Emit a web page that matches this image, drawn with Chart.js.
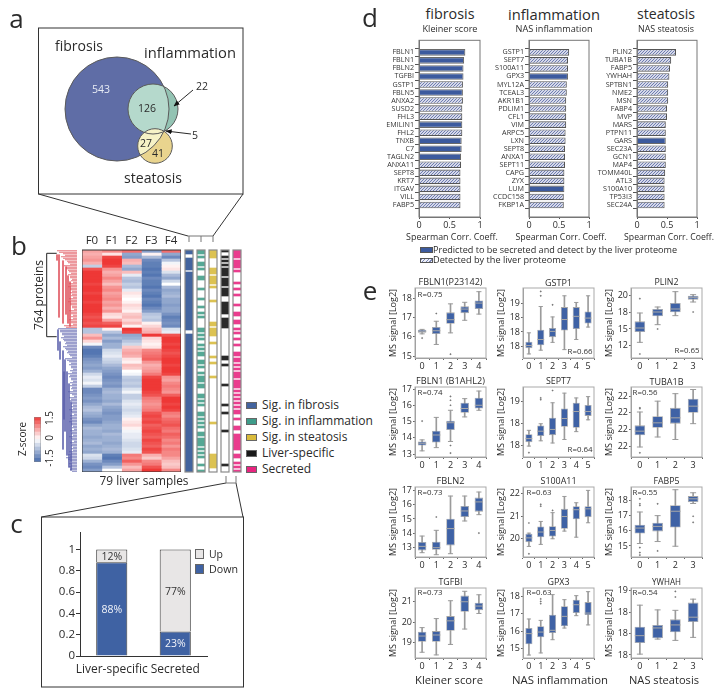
<!DOCTYPE html>
<html><head><meta charset="utf-8">
<script src="https://cdn.jsdelivr.net/npm/chart.js@4"></script>
<style>
html,body{margin:0;padding:0;background:#fff}
#page{position:relative;width:721px;height:694px;overflow:hidden;background:#fff;font-family:"Open Sans",sans-serif;color:#2b2b2b}
#page canvas{position:absolute}
.t{position:absolute;white-space:nowrap;line-height:1;transform:translate(-50%,-50%)}
.l{transform:translate(0,-50%)}
.sw{position:absolute;box-sizing:border-box}
svg{position:absolute;left:0;top:0}
</style></head><body><div id="page"></div>
<script>
/* ---------- panel a: Venn ---------- */
const vennNames=['fibrosis','inflammation','steatosis'];
const vennX=[79,115,117];
const vennY=[81,81,118];
const vennR=[52,25,17.3];
const vennCounts=['543','126','27','41','22','5'];

/* ---------- panel b: heatmap (z-score per row) ---------- */
const heatCols=['F0','F1','F2','F3','F4'];
const heatF0=[.7,.6,.7,.8,.6,-.5,1.3,1.5,1.5,1.5,1.5,1.4,1.5,1.5,1.4,1.5,1.5,1.4,1.5,1.5,1.5,1.4,1.3,1.4,1.3,1.4,-.6,-.6,.5,.8,.3,-.1,-1.2,-1.4,-1.4,-1.3,-1.1,-1.0,-.9,-1.0,-.8,-.4,-.2,-.3,-.1,-.5,-1.2,-1.2,-1.1,-1.0,-1.1,-.9,-.7,-.6,-.8,-.9,-1.1,-1.2,-.9,-.7,-.8,-.8,-.9,-.8,-.7,-.9,-.8,-.9,-.3,-.4,-.8,-1.1,-1.2,-1.0];
const heatF1=[.9,.2,1.4,1.5,1.5,1.4,.8,.6,.7,.9,.7,.5,.8,.9,.7,.8,.9,.7,.8,.6,.8,.3,.2,.7,1.2,1.4,.1,-.6,-.9,-.7,-1.0,-.8,-.8,-.4,-.3,-.2,-.4,-.5,-.7,-.9,-1.0,-1.1,-1.2,-1.1,-1.0,-1.1,-.8,-.7,-.8,-.8,-.9,-.7,-.9,-1.0,-1.1,-1.0,-1.0,-.9,-.8,-.8,-.9,-.7,-.8,-.8,-.9,-.8,-.7,-.8,-1.3,-1.4,-1.2,-1.0,-.6,.0];
const heatF2=[1.1,-.9,-1.0,.6,.5,-.7,-.9,.5,-.2,-.6,-.7,-.5,-.6,-.2,.2,.1,.0,.1,.3,.2,.1,.4,.5,.3,.5,.1,1.5,1.4,-.9,-.8,-.6,-.4,.4,.6,.7,.6,.2,.1,.5,.4,.0,-.1,-.5,-.6,-.5,-.6,-.3,-.1,-.5,-.5,-.3,-.2,-.3,-.4,-.3,-.2,.1,.2,.3,.1,-.1,-.2,-.2,-.3,-.4,-.4,-.3,-.2,1.0,.9,1.2,.8,.5,.7];
const heatF3=[-1.0,.1,-.7,-1.2,-1.3,-1.3,-1.4,-1.3,-1.4,-1.2,-1.3,-1.3,-1.4,-1.2,-1.3,-1.4,-1.2,-1.3,-1.4,-1.2,-1.0,-.6,-.5,-.6,.1,.3,.5,.6,1.5,.3,.2,.1,.2,.9,1.0,1.1,1.2,.8,.6,.7,.8,1.0,1.4,1.5,1.5,1.5,1.5,1.4,1.3,1.0,.9,.8,.9,1.0,1.3,1.4,1.3,1.4,1.2,1.3,1.4,1.3,1.2,1.4,1.3,1.2,1.4,1.3,.6,.4,.9,1.0,1.3,1.5];
const heatF4=[1.1,-.9,-1.2,-.6,-.1,.1,.2,-.3,-.7,-.9,-.4,.0,-.7,-.9,-.8,-.7,-.9,-.9,-1.0,-.9,-.9,-1.1,-1.3,-1.2,-1.1,-1.2,-.3,-.2,1.3,1.5,1.5,1.4,1.5,1.4,1.3,1.4,1.5,1.5,1.4,1.5,1.5,1.4,.8,.7,.9,1.0,.9,.8,1.2,1.5,1.5,1.4,1.5,1.4,1.0,.9,1.1,1.2,1.3,1.1,1.0,1.2,1.1,.9,1.0,.8,1.0,.9,.9,.7,.5,.4,.5,.9];
const colorbarSteps=[-1.5,-1.25,-1,-.75,-.5,-.25,0,.25,.5,.75,1,1.25];

/* dendrogram: depth of each leaf and [depth,rowFrom,rowTo] spines */
const dendroRedLeaves=[1,7,5,9,12,8,10,13,12,14,15,13,12,14,14,15,13,12,14,16,13,15,15,13,15,8];
const dendroRedSpines=[[1,1,3],[3,1,22],[7,3,24],[10,5,21],[12,8,24],[14,10,25]];
const dendroBlueLeaves=[2,4,6,5,8,9,7,10,11,14,9,13,13,15,14,12,13,15,14,14,15,12,16,13,14,15,15,13,16,14,14,13,15,16,14,15,13,16,14,15,15,13,12,10,14,13,13,14];
const dendroBlueSpines=[[2,26,33],[4,30,36],[7,33,66],[8,40,56],[9,36,60],[11,40,68],[13,44,72],[15,50,73]];

/* annotation tracks: flagged row numbers out of 111 */
const trackRows=111;
const trackFibrosis=[0,1,4,5,6,7,8,9,11,12,13,14,15,16,17,18,19,20,21,22,23,24,25,26,27,28,29,30,31,32,33,34,35,36,37,38,39,42,43,44,45,46,47,48,49,50,51,52,53,54,55,56,57,58,59,60,61,62,63,64,65,66,67,68,69,70,71,72,73,74,75,76,77,78,79,80,81,82,83,84,85,86,87,88,89,90,91,92,93,94,95,96,97,98,99,100,101,102,103,104,105,106,107,108,109,110];
const trackInflammation=[0,1,3,6,7,9,13,14,19,24,28,31,33,39,40,42,44,47,49,51,52,55,56,58,61,63,64,65,67,68,72,73,75,77,81,82,84,86,88,91,92,94,95,96,97,99,101,103,107,110];
const trackSteatosis=[0,1,2,3,9,10,11,13,14,15,16,18,25,36,37,39,40,41,42,46,53,56,63,86,102,103,104,105,106,107,108];
const trackLiver=[0,3,5,7,9,10,11,12,14,15,16,17,19,20,21,22,26,27,28,29,30,31,34,35,36,37,38,53,54,57,67,77,81,90,107];
const trackSecreted=[0,1,2,3,5,6,7,8,10,16,19,22,27,31,32,35,36,39,41,44,47,51,52,54,55,57,59,61,62,63,65,66,67,68,70,72,74,76,78,80,81,84,88,89,92,93,94,95,96,97,98,99,102,103,106,108,110];
const legendB=['Sig. in fibrosis','Sig. in inflammation','Sig. in steatosis','Liver-specific','Secreted'];

/* ---------- panel c ---------- */
const stackCats=['Liver-specific','Secreted'];
const shareDown=[.88,.23];
const shareUp=[.12,.77];
const shareDownText=['88%','23%'];
const shareUpText=['12%','77%'];

/* ---------- panel d ---------- */
const fibrosisGenes=['FBLN1','FBLN1','FBLN2','TGFBI','GSTP1','FBLN5','ANXA2','SUSD2','FHL3','EMILIN1','FHL2','TNXB','C7','TAGLN2','ANXA11','SEPT8','KRT7','ITGAV','VILL','FABP5'];
const fibrosisCorr=[.76,.74,.73,.73,.72,.72,.72,.71,.71,.71,.71,.70,.70,.69,.69,.68,.68,.68,.68,.68];
const fibrosisSecreted=[1,1,1,1,0,1,0,0,0,1,0,1,1,1,0,0,0,0,0,0];
const inflammationGenes=['GSTP1','SEPT7','S100A11','GPX3','MYL12A','TCEAL3','AKR1B1','PDLIM1','CFL1','VIM','ARPC5','LXN','SEPT8','ANXA1','SEPT11','CAPG','ZYX','LUM','CCDC158','FKBP1A'];
const inflammationCorr=[.67,.65,.65,.65,.63,.63,.62,.62,.62,.62,.61,.61,.60,.60,.60,.59,.59,.59,.58,.58];
const inflammationSecreted=[0,0,0,1,0,0,0,0,0,0,0,0,0,0,0,0,0,1,0,0];
const steatosisGenes=['PLIN2','TUBA1B','FABP5','YWHAH','SPTBN1','NME2','MSN','FABP4','MVP','MARS','PTPN11','GARS','SEC23A','GCN1','MAP4','TOMM40L','ATL3','S100A10','TP53I3','SEC24A'];
const steatosisCorr=[.65,.57,.55,.54,.52,.52,.52,.50,.50,.48,.48,.48,.48,.48,.48,.47,.46,.46,.46,.46];
const steatosisSecreted=[0,0,0,0,0,0,0,0,0,0,0,1,0,0,0,0,0,0,0,0];

/* ---------- panel e: [low,q1,median,q3,high] per group, outliers [group,value] ---------- */
const boxFBLN1a=[[16.15,16.2,16.28,16.36,16.38],[15.6,16.14,16.31,16.5,16.8],[16.2,16.67,16.88,17.26,17.7],[16.85,17.22,17.43,17.57,17.78],[17.17,17.43,17.74,17.88,18.33]];
const outFBLN1a=[['0',15.93],['1',17.2],['2',15.1]];
const boxGSTP1=[[17.24,17.44,17.53,17.66,17.97],[17.37,17.54,17.74,18.08,18.88],[17.64,17.82,18.02,18.14,18.52],[17.39,18.05,18.43,18.86,19.25],[17.74,18.1,18.54,18.86,19.02],[18.17,18.29,18.48,18.71,19.25]];
const outGSTP1=[['1',19.4],['1',19.25],['2',18.94]];
const boxPLIN2=[[13,14.55,15.15,16.15,17.4],[15.65,16.9,17.55,18,18.3],[17,17.5,18,18.9,20.6],[19.05,19.4,19.75,20,20.15]];
const outPLIN2=[['0',19.55],['0',11.25],['1',15],['3',17.55]];
const boxFBLN1b=[[13.2,13.53,13.67,13.78,13.88],[13.4,13.71,14.18,14.45,15.27],[13.78,14.49,14.94,15.06,15.71],[15.3,15.55,15.82,16.18,16.43],[15.71,15.82,16.02,16.49,16.9]];
const outFBLN1b=[['0',15.04],['2',16.57],['2',16.33],['2',16.02],['2',13.53],['2',13.06]];
const boxSEPT7=[[17.98,18.07,18.15,18.25,18.34],[18.1,18.21,18.32,18.45,18.49],[18.05,18.23,18.36,18.63,18.97],[18.13,18.42,18.61,18.84,19.19],[18.31,18.4,18.77,18.97,19.08],[18.58,18.67,18.77,18.92,19.11]];
const outSEPT7=[['0',17.83],['1',19.08],['1',19.04],['2',19.25]];
const boxTUBA1B=[[21.59,21.73,21.78,21.85,22.01],[21.71,21.82,21.88,21.96,22.14],[21.68,21.87,21.94,22.06,22.23],[21.87,22,22.08,22.17,22.28]];
const outTUBA1B=[['0',22.05],['0',22.06],['0',21.52]];
const boxFBLN2=[[12.65,12.81,13.09,13.4,13.81],[12.51,12.86,13,13.42,14.21],[12.58,13.16,14.33,15.02,16.6],[14.86,15.14,15.56,15.91,16.6],[15.3,15.51,16.19,16.49,16.88]];
const outFBLN2=[['1',15.14],['4',14.02]];
const boxS100A11=[[19.66,19.85,20.04,20.22,20.25],[19.75,20.07,20.3,20.55,20.77],[20,20.1,20.37,20.56,21.16],[20.34,20.44,20.99,21.33,21.88],[20.07,20.87,21.29,21.45,21.6],[20.71,20.96,21.33,21.45,22.15]];
const outS100A11=[['0',20.7],['0',19.33],['1',21.53],['1',21.45],['2',21.26]];
const boxFABP5=[[15.16,15.82,16.18,16.4,17.24],[15.29,15.96,16.29,16.53,17],[14.98,16.22,17.29,17.69,18.71],[17.8,17.89,18.11,18.29,18.51]];
const outFABP5=[['0',18.11],['0',17.78],['0',17.67],['0',14.89],['0',14.56],['0',14.4],['1',17.78],['1',14.67],['3',16.96],['3',16.56]];
const boxTGFBI=[[18.54,19.05,19.33,19.54,19.74],[18.41,19.05,19.38,19.57,20.18],[18.92,19.59,20.07,20.3,21.05],[19.67,20.51,21,21.3,21.51],[20.43,20.59,20.79,20.95,21.34]];
const outTGFBI=[];
const boxGPX3=[[14.63,15.25,15.86,16.18,16.7],[14.75,15.65,15.95,16.28,16.62],[15.51,15.9,16.05,16.95,18.1],[16.18,16.28,16.85,17.43,17.81],[16.89,17.04,17.52,17.81,18.04],[16.36,16.93,17.04,17.67,18.27]];
const outGPX3=[['1',17.85],['1',17.71],['1',17.58]];
const boxYWHAH=[[17.52,17.78,17.95,18.16,18.66],[17.87,17.89,18.13,18.2,18.55],[17.84,18.03,18.2,18.33,18.54],[17.91,18.27,18.38,18.72,18.8]];
const outYWHAH=[['2',18.98],['2',18.85]];

const ticksFBLN1a=[15,16,17,18], labelsFBLN1a=['15','16','17','18'];
const ticksGSTP1=[17.5,18,18.5,19], labelsGSTP1=['18','18','18','19'];
const ticksPLIN2=[12.5,15,17.5,20], labelsPLIN2=['12','15','18','20'];
const ticksFBLN1b=[13,14,15,16,17], labelsFBLN1b=['13','14','15','16','17'];
const ticksSEPT7=[18,18.5,19], labelsSEPT7=['18','18','19'];
const ticksTUBA1B=[21.6,21.8,22,22.2], labelsTUBA1B=['22','22','22','22'];
const ticksFBLN2=[13,14,15,16,17], labelsFBLN2=['13','14','15','16','17'];
const ticksS100A11=[20,21,22], labelsS100A11=['20','21','22'];
const ticksFABP5=[15,16,17,18], labelsFABP5=['15','16','17','18'];
const ticksTGFBI=[19,20,21], labelsTGFBI=['19','20','21'];
const ticksGPX3=[15,16,17,18], labelsGPX3=['15','16','17','18'];
const ticksYWHAH=[17.5,18,18.5,19], labelsYWHAH=['18','18','18','19'];

/* ---------- helpers ---------- */
const FONT='"Open Sans",sans-serif';
const page=document.getElementById('page');
const INK='#2b2b2b';
Chart.defaults.font.family=FONT;
Chart.defaults.color=INK;
Chart.defaults.animation=false;
Chart.defaults.plugins.legend.display=false;
Chart.defaults.plugins.tooltip.enabled=false;

const _m=document.createElement('canvas').getContext('2d');
function fitSize(s,w){_m.font='100px '+FONT;return +(w/_m.measureText(s).width*100).toFixed(2);}

Chart.register({id:'frame',afterDatasetsDraw(c,_,o){
  if(!o||!o.color)return;const a=c.chartArea,x=c.ctx;x.save();x.strokeStyle=o.color;x.lineWidth=o.width||1;
  x.strokeRect(a.left,a.top,a.right-a.left,a.bottom-a.top);x.restore();}});
Chart.register({id:'barText',afterDatasetsDraw(c,_,o){
  if(!o||!o.items)return;const x=c.ctx;x.save();x.font='10.5px '+FONT;x.textAlign='center';x.textBaseline='middle';
  o.items.forEach(it=>{c.getDatasetMeta(it.dataset).data.forEach((el,i)=>{
    const p=el.getProps(['x','y','base'],true);x.fillStyle=it.color;x.fillText(it.text[i],p.x,(p.y+p.base)/2+1);});});
  x.restore();}});
Chart.register({id:'vennOverlap',afterDatasetsDraw(c,_,o){
  if(!o||!o.on)return;const x=c.ctx;const pt=i=>{const m=c.getDatasetMeta(0).data[i];return {x:m.x,y:m.y,r:m.options.radius};};
  const P=[pt(0),pt(1),pt(2)];const circ=p=>{x.beginPath();x.arc(p.x,p.y,p.r,0,Math.PI*2);};
  x.save();circ(P[0]);x.clip();
  circ(P[1]);x.fillStyle='#b5d9cc';x.fill();
  circ(P[2]);x.fillStyle='#f6f2c6';x.fill();x.restore();
  x.strokeStyle='#5a5a5a';x.lineWidth=1;P.forEach(p=>{circ(p);x.stroke();});}});

function mk(plot,m,config){
  const cv=document.createElement('canvas');
  const W=plot.r-plot.l+m.l+m.r,H=plot.b-plot.t+m.t+m.b;
  cv.width=W;cv.height=H;cv.style.left=(plot.l-m.l)+'px';cv.style.top=(plot.t-m.t)+'px';
  cv.style.width=W+'px';cv.style.height=H+'px';page.appendChild(cv);
  const o=config.options=config.options||{};
  o.responsive=false;o.events=[];
  o.scales=o.scales||{};
  const xs=o.scales.x=o.scales.x||{},ys=o.scales.y=o.scales.y||{};
  const pad={left:ys.display===false?m.l:0,right:m.r,top:m.t,bottom:xs.display===false?m.b:0};
  if(xs.display!==false)xs.afterFit=s=>{s.height=m.b;};
  if(ys.display!==false)ys.afterFit=s=>{s.width=m.l;};
  if(xs.position==='top'){xs.afterFit=s=>{s.height=m.t;};pad.top=0;pad.bottom=m.b;}
  o.layout={padding:pad};
  return new Chart(cv,config);
}
/* size is either a font size, or {w:n} for the width in pixels the text spans */
function txt(s,x,y,size,opt={}){
  const d=document.createElement('div');d.className='t'+(opt.left?' l':'');d.textContent=s;
  const fs=(typeof size==='object')?fitSize(s,size.w):size;
  d.style.left=x+'px';d.style.top=y+'px';d.style.fontSize=fs+'px';
  if(opt.color)d.style.color=opt.color;
  if(opt.rot)d.style.transform='translate(-50%,-50%) rotate(-90deg)';
  page.appendChild(d);
}
function swatch(x,y,w,h,fill,border){
  const d=document.createElement('div');d.className='sw';d.style.cssText+=`left:${x}px;top:${y}px;width:${w}px;height:${h}px;border:1px solid ${border};`;
  d.style.background=fill;page.appendChild(d);return d;
}
function hatch(){
  const c=document.createElement('canvas');c.width=c.height=3;const x=c.getContext('2d');
  x.fillStyle='#d5d9ea';x.fillRect(0,0,3,3);x.strokeStyle='#6e7cb0';x.lineWidth=1;
  x.beginPath();x.moveTo(-1,4);x.lineTo(4,-1);x.moveTo(-1,1);x.lineTo(1,-1);x.moveTo(2,4);x.lineTo(4,2);x.stroke();
  return x.createPattern(c,'repeat');
}
const HATCH=hatch();
function heatColor(z){
  const t=Math.max(-1,Math.min(1,z/1.5));const a=Math.abs(t);
  const e=t<0?[72,108,172]:[238,56,54];
  return `rgb(${Math.round(255+(e[0]-255)*a)},${Math.round(255+(e[1]-255)*a)},${Math.round(255+(e[2]-255)*a)})`;
}

/* ---------- connectors ---------- */
const NS='http://www.w3.org/2000/svg';
const svg=document.createElementNS(NS,'svg');svg.setAttribute('width',721);svg.setAttribute('height',694);
svg.innerHTML=`
<defs><marker id="ah" viewBox="0 0 10 10" refX="9" refY="5" markerWidth="7" markerHeight="7" orient="auto"><path d="M0 1L10 5L0 9z" fill="#111"/></marker></defs>
<g fill="none" stroke="#333" stroke-width="1">
<rect x="38.5" y="28" width="204.5" height="166"/>
<rect x="41.5" y="517" width="202" height="170"/>
<path d="M38.5 194L188 236M243 194L213 236"/>
<path d="M41.5 517L226 483M243 517L236 483"/>
<path d="M46.7 253.3H56.7M46.7 336.7H56.7M46.7 253.3V336.7" stroke="#222"/>
</g>
<g fill="none" stroke="#777" stroke-width="1">
<path d="M188 236H213M189 236V242M201 236V242M213 236V242"/>
<path d="M226 476V483H236V476"/>
</g>
<path d="M193 90L174 106" stroke="#111" stroke-width=".9" marker-end="url(#ah)"/>
<path d="M191 134L166 131" stroke="#111" stroke-width=".9" marker-end="url(#ah)"/>`;

/* ---------- a: Venn as a bubble chart ---------- */
mk({l:38,t:28,r:243,b:194},{l:60,t:60,r:60,b:60},{type:'bubble',
 data:{datasets:[{data:vennX.map((x,i)=>({x,y:vennY[i],r:vennR[i]})),
   backgroundColor:['#5f6da6','#93c3b3','#e9d48e'],borderWidth:0,clip:false}]},
 options:{plugins:{vennOverlap:{on:true}},
  scales:{x:{display:false,min:0,max:205},y:{display:false,reverse:true,min:0,max:166}}}});
txt(vennNames[0],79,46,{w:48});txt(vennNames[1],190,52,{w:92});txt(vennNames[2],153,178,{w:58});
txt(vennCounts[0],101,89,10.5,{color:'#e8ecf5'});txt(vennCounts[1],147,108,10.5);txt(vennCounts[2],146,143,10.5);
txt(vennCounts[3],158,153,10.5);txt(vennCounts[4],202,86,10.5);txt(vennCounts[5],195,135,10.5);

/* ---------- b: heat map as stacked horizontal bars ---------- */
const heatData=[heatF0,heatF1,heatF2,heatF3,heatF4];
const heatRows=heatF0.map((_,i)=>String(i));
mk({l:82,t:250,r:181,b:472},{l:0,t:16,r:0,b:0},{type:'bar',
 data:{labels:heatRows,datasets:heatData.map((col,i)=>({label:heatCols[i],data:col.map(()=>1),
   backgroundColor:col.map(heatColor),borderWidth:0,barPercentage:1,categoryPercentage:1}))},
 options:{indexAxis:'y',plugins:{frame:{color:'#333',width:1}},
  scales:{y:{display:false,stacked:true},
   x:{position:'top',stacked:true,min:0,max:5,afterBuildTicks:a=>{a.ticks=heatCols.map((_,i)=>({value:i+.5}));},
      grid:{display:false,drawTicks:false},border:{display:false},
      ticks:{autoSkip:false,maxRotation:0,padding:2,callback:(v,i)=>heatCols[i],font:{size:11.5},color:INK}}}}});

/* dendrogram */
function dendro(leaves,first,spines,right){
  const pts=[];leaves.forEach((d,i)=>{
    pts.push({x:d,y:first+i+.25},{x:right,y:first+i+.25},{x:NaN,y:NaN});
    pts.push({x:d+2,y:first+i+.75},{x:right,y:first+i+.75},{x:NaN,y:NaN});});
  spines.forEach(s=>{pts.push({x:s[0],y:s[1]+.5},{x:s[0],y:s[2]+.5},{x:NaN,y:NaN});});
  return pts;
}
mk({l:56,t:250,r:81,b:472},{l:2,t:2,r:2,b:2},{type:'scatter',
 data:{datasets:[
  {data:dendro(dendroRedLeaves,0,dendroRedSpines,21),showLine:true,pointRadius:0,borderColor:'#e0525a',borderWidth:.8,spanGaps:false},
  {data:dendro(dendroBlueLeaves,26,dendroBlueSpines,21),showLine:true,pointRadius:0,borderColor:'#5a60ac',borderWidth:.8,spanGaps:false}]},
 options:{scales:{x:{display:false,min:0,max:25},y:{display:false,reverse:true,min:0,max:74}}}});
txt('764 proteins',39,295,{w:70},{rot:true});

/* tracks */
const trackList=[[trackFibrosis,'#43649f',185],[trackInflammation,'#55a895',197],[trackSteatosis,'#dcc252',209],[trackLiver,'#2a2a2a',221],[trackSecreted,'#ea3d8e',233]];
const trackLabels=Array.from({length:trackRows},(_,i)=>String(i));
trackList.forEach(([rows,col,x])=>{
 mk({l:x,t:250,r:x+8,b:472},{l:1,t:1,r:1,b:1},{type:'bar',
  data:{labels:trackLabels,datasets:[{data:trackLabels.map((_,i)=>rows.includes(i)?1:null),backgroundColor:col,borderWidth:0,barPercentage:1,categoryPercentage:1}]},
  options:{indexAxis:'y',plugins:{frame:{color:'#8a8a8a',width:1.2}},scales:{x:{display:false,min:0,max:1},y:{display:false}}}});
});

/* legend of b */
const legendBColors=['#43649f','#3e9c8a','#d9bb3c','#1a1a1a','#e8247f'];
const legendBSize=fitSize('Sig. in inflammation',111);
[405,421,437,453,469].forEach((y,i)=>{swatch(246,y-3.5,11,7,legendBColors[i],'#666');txt(legendB[i],262,y,legendBSize,{left:true});});
txt('79 liver samples',144,481,{w:89});

/* colorbar */
mk({l:34,t:417,r:41,b:462},{l:0,t:0,r:0,b:0},{type:'bar',
 data:{labels:['z'],datasets:colorbarSteps.map(s=>({data:[[s,s+.25]],backgroundColor:heatColor(s+.125),borderWidth:0,barPercentage:1,categoryPercentage:1,grouped:false}))},
 options:{plugins:{frame:{color:'#888',width:.8}},scales:{x:{display:false},y:{display:false,min:-1.5,max:1.5}}}});
txt('Z-score',22,439,10,{rot:true});
txt('1.5',49,418,10,{rot:true});txt('0',49,438,10,{rot:true});txt('-1.5',49,458,10,{rot:true});

/* ---------- c ---------- */
mk({l:80,t:531,r:207,b:656},{l:34,t:6,r:2,b:22},{type:'bar',
 data:{labels:stackCats,datasets:[
  {label:'Down',data:shareDown,backgroundColor:'#3f62a3',borderColor:'#3a3a3a',borderWidth:1,barPercentage:.49,categoryPercentage:1},
  {label:'Up',data:shareUp,backgroundColor:'#e8e6e6',borderColor:'#3a3a3a',borderWidth:1,barPercentage:.49,categoryPercentage:1}]},
 options:{plugins:{barText:{items:[{dataset:0,text:shareDownText,color:'#f3f5fa'},{dataset:1,text:shareUpText,color:'#333'}]}},
  scales:{x:{stacked:true,grid:{display:false,drawTicks:false},border:{color:'#333'},ticks:{autoSkip:false,padding:6,font:{size:fitSize('Liver-specific',72)},color:INK,maxRotation:0}},
   y:{stacked:true,min:0,max:1.157,afterBuildTicks:a=>{a.ticks=[0,.2,.4,.6,.8,1].map(v=>({value:v}));},
    border:{color:'#333'},grid:{drawOnChartArea:false,tickLength:4,tickColor:'#333'},
    ticks:{padding:1,font:{size:11.5},color:INK,callback:v=>String(v)}}}}});
swatch(195,549,9,9.5,'#e8e6e6','#666');txt('Up',209,554,{w:14},{left:true});
swatch(195,564,9,9.5,'#3f62a3','#666');txt('Down',209,569,{w:29},{left:true});

/* ---------- d ---------- */
const geneSize=fitSize('FBLN1',21.6);
function corrChart(plot,names,vals,flags){
 const labels=['',...names,''];
 mk(plot,{l:40,t:0,r:6,b:28},{type:'bar',
  data:{labels,datasets:[{data:[null,...vals,null],
    backgroundColor:[null,...flags,null].map(f=>f?'#3c5a9e':HATCH),
    borderColor:[null,...flags,null].map(f=>f?'#6a6a6a':'#555'),borderWidth:1.1,barPercentage:.82,categoryPercentage:1}]},
  options:{indexAxis:'y',plugins:{frame:{color:'#777',width:1}},
   scales:{
    x:{min:0,max:1,afterBuildTicks:a=>{a.ticks=[0,.5,1].map(v=>({value:v}));},
      grid:{drawOnChartArea:false,tickLength:2,tickColor:'#555'},border:{color:'#777'},
      ticks:{padding:1,font:{size:9},color:INK,maxRotation:0,callback:v=>String(v)}},
    y:{afterBuildTicks:a=>{a.ticks=a.ticks.filter(t=>t.value>0&&t.value<=names.length);},
      grid:{drawOnChartArea:false,tickLength:4,tickColor:'#555'},border:{color:'#777'},
      ticks:{autoSkip:false,padding:1,font:{size:geneSize},color:'#333'}}}}});
}
corrChart({l:419,t:35,r:480,b:217},fibrosisGenes,fibrosisCorr,fibrosisSecreted);
corrChart({l:529,t:35,r:589,b:217},inflammationGenes,inflammationCorr,inflammationSecreted);
corrChart({l:637,t:35,r:697,b:217},steatosisGenes,steatosisCorr,steatosisSecreted);
txt('fibrosis',450,14,{w:49});txt('inflammation',554,14,{w:92});txt('steatosis',666,14,{w:58});
txt('Kleiner score',450,29,{w:55});txt('NAS inflammation',554,29,{w:77});txt('NAS steatosis',666,29,{w:56});
txt('Spearman Corr. Coeff.',452,237,{w:92});txt('Spearman Corr. Coeff.',561,237,{w:91});txt('Spearman Corr. Coeff.',669,237,{w:90});
swatch(420,247,13,5.5,'#3c5a9e','#555');txt('Predicted to be secreted and detect by the liver proteome',433,250,{w:244},{left:true});
const hs=swatch(420,257.5,13,5.5,'#c9cfe3','#555');hs.style.backgroundImage='repeating-linear-gradient(135deg,#7a86b6 0 1px,#eef0f7 1px 2.5px)';
txt('Detected by the liver proteome',433,260,{w:133},{left:true});

/* ---------- e ---------- */
const COLS=[415,523,631],ROWS=[[288,358],[387,457],[487,557],[588,658]];
const msTitleSize=fitSize('MS signal [Log2]',68);
const boxPanels=[
 {name:'FBLN1(P23142)',w:64,c:0,r:0,box:boxFBLN1a,out:outFBLN1a,tk:ticksFBLN1a,tl:labelsFBLN1a,min:14.9,max:18.52,R:'R=0.75',rx:430,ry:295},
 {name:'GSTP1',w:27,c:1,r:0,box:boxGSTP1,out:outGSTP1,tk:ticksGSTP1,tl:labelsGSTP1,min:17.1,max:19.52,R:'R=0.66',rx:580,ry:352},
 {name:'PLIN2',w:24,c:2,r:0,box:boxPLIN2,out:outPLIN2,tk:ticksPLIN2,tl:labelsPLIN2,min:10.65,max:21.15,R:'R=0.65',rx:687,ry:351},
 {name:'FBLN1 (B1AHL2)',w:69,c:0,r:1,box:boxFBLN1b,out:outFBLN1b,tk:ticksFBLN1b,tl:labelsFBLN1b,min:12.82,max:17.15,R:'R=0.74',rx:430,ry:393},
 {name:'SEPT7',w:25,c:1,r:1,box:boxSEPT7,out:outSEPT7,tk:ticksSEPT7,tl:labelsSEPT7,min:17.73,max:19.33,R:'R=0.64',rx:580,ry:450},
 {name:'TUBA1B',w:34,c:2,r:1,box:boxTUBA1B,out:outTUBA1B,tk:ticksTUBA1B,tl:labelsTUBA1B,min:21.47,max:22.31,R:'R=0.56',rx:645,ry:393},
 {name:'FBLN2',w:28,c:0,r:2,box:boxFBLN2,out:outFBLN2,tk:ticksFBLN2,tl:labelsFBLN2,min:12.35,max:17.23,R:'R=0.73',rx:430,ry:493},
 {name:'S100A11',w:36,c:1,r:2,box:boxS100A11,out:outS100A11,tk:ticksS100A11,tl:labelsS100A11,min:19.19,max:22.3,R:'R=0.63',rx:539,ry:493},
 {name:'FABP5',w:26,c:2,r:2,box:boxFABP5,out:outFABP5,tk:ticksFABP5,tl:labelsFABP5,min:14.27,max:18.89,R:'R=0.55',rx:645,ry:493},
 {name:'TGFBI',w:24,c:0,r:3,box:boxTGFBI,out:outTGFBI,tk:ticksTGFBI,tl:labelsTGFBI,min:18.26,max:21.67,R:'R=0.73',rx:430,ry:593},
 {name:'GPX3',w:22,c:1,r:3,box:boxGPX3,out:outGPX3,tk:ticksGPX3,tl:labelsGPX3,min:14.46,max:18.48,R:'R=0.63',rx:539,ry:593},
 {name:'YWHAH',w:29,c:2,r:3,box:boxYWHAH,out:outYWHAH,tk:ticksYWHAH,tl:labelsYWHAH,min:17.43,max:19.06,R:'R=0.54',rx:645,ry:593}
];
boxPanels.forEach(p=>{
 const plot={l:COLS[p.c],r:COLS[p.c]+71,t:ROWS[p.r][0],b:ROWS[p.r][1]};
 const n=p.box.length,labels=p.box.map((_,i)=>String(i));
 const catW=71/n,GR='#9b9b9b';
 const capR=Math.min(3,catW*.18);
 mk(plot,{l:30,t:7,r:7,b:14},{type:'bar',
  data:{labels,datasets:[
   {type:'bar',data:p.box.map(b=>[b[0],b[4]]),backgroundColor:GR,barThickness:1,grouped:false,order:5},
   {type:'bar',data:p.box.map(b=>[b[1],b[3]]),backgroundColor:'#3f62a5',borderColor:'#a5a5a5',borderWidth:.8,barPercentage:.6,categoryPercentage:1,grouped:false,borderSkipped:false,order:4},
   {type:'line',data:p.box.map(b=>b[2]),showLine:false,pointStyle:'line',pointRadius:catW*.29,pointBorderColor:'#a8a8a8',pointBorderWidth:1,order:3},
   {type:'line',data:p.box.map(b=>b[0]),showLine:false,pointStyle:'line',pointRadius:capR,pointBorderColor:GR,pointBorderWidth:1,order:3},
   {type:'line',data:p.box.map(b=>b[4]),showLine:false,pointStyle:'line',pointRadius:capR,pointBorderColor:GR,pointBorderWidth:1,order:3},
   {type:'line',data:p.out.map(o=>({x:o[0],y:o[1]})),showLine:false,pointStyle:'rectRot',pointRadius:1.1,pointBackgroundColor:'#777',pointBorderWidth:0,order:2}
  ]},
  options:{plugins:{frame:{color:'#a9a9a9',width:1}},
   scales:{
    x:{grid:{drawOnChartArea:false,tickLength:2,tickColor:'#666'},border:{color:'#999',width:1},
      ticks:{padding:1,font:{size:9},color:INK,maxRotation:0,autoSkip:false}},
    y:{min:p.min,max:p.max,afterBuildTicks:a=>{a.ticks=p.tk.map(v=>({value:v}));},
      grid:{drawOnChartArea:false,tickLength:2,tickColor:'#666'},border:{color:'#999',width:1},
      title:{display:true,text:'MS signal [Log2]',font:{size:msTitleSize},color:INK,padding:{top:3,bottom:0}},
      ticks:{autoSkip:false,padding:1,font:{size:9},color:INK,callback:(v,i)=>p.tl[i]}}}}});
 txt(p.name,plot.l+35.5,plot.t-6.5,{w:p.w});
 txt(p.R,p.rx,p.ry,{w:25},{color:'#333'});
});
txt('Kleiner score',449,680,{w:68});txt('NAS inflammation',560,680,{w:96});txt('NAS steatosis',664,680,{w:70});

/* panel letters */
txt('a',16.5,18,26);txt('b',19,245,26);txt('c',16.5,523,26);txt('d',370,17,26);txt('e',370,290,26);
page.appendChild(svg);
</script></body></html>
